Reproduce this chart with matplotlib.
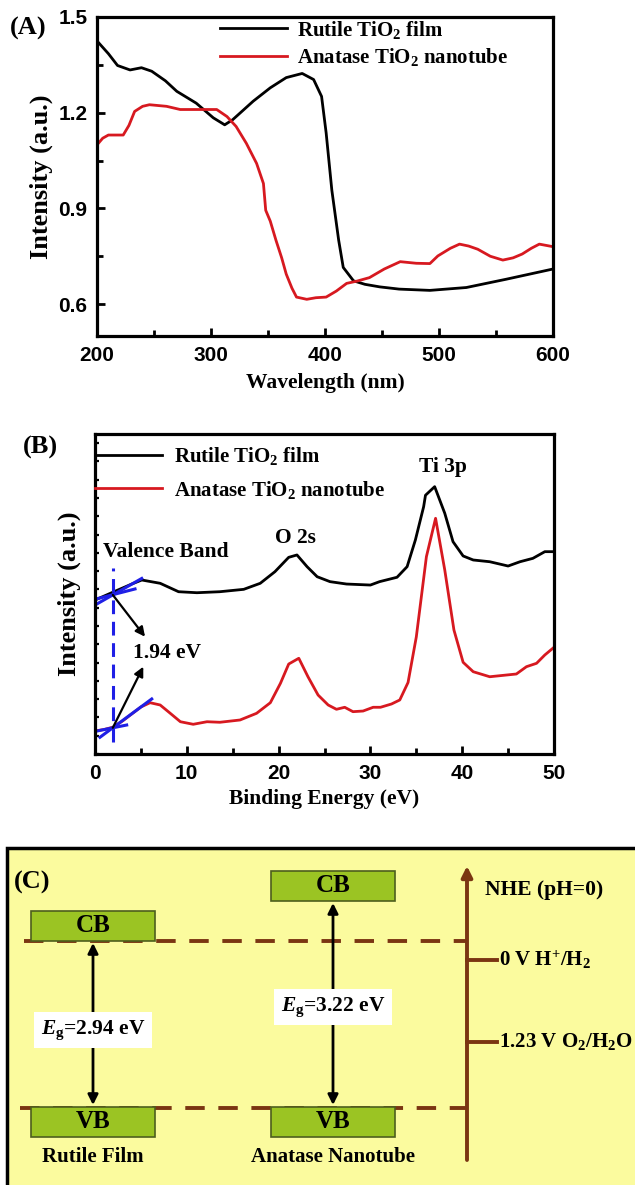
import matplotlib
matplotlib.use("Agg")
import matplotlib.pyplot as plt
from matplotlib.patches import Rectangle
from matplotlib.ticker import MultipleLocator

plt.rcParams["font.family"] = ["Liberation Serif", "DejaVu Serif"]
plt.rcParams["font.weight"] = "bold"
plt.rcParams["mathtext.fontset"] = "custom"
plt.rcParams["mathtext.rm"] = "Liberation Serif:bold"
plt.rcParams["mathtext.it"] = "Liberation Serif:italic:bold"
plt.rcParams["mathtext.bf"] = "Liberation Serif:bold"

# ---- (A) UV-vis spectra ----
wl_rutile = [200, 210, 218, 229, 239, 248, 260, 270, 287, 302, 312, 319, 337, 352, 366,
             380, 390, 397, 401, 406, 412, 416, 425, 435, 448, 465, 492, 524, 559, 600]
int_rutile = [1.425, 1.385, 1.348, 1.334, 1.341, 1.33, 1.30, 1.267, 1.23, 1.184, 1.162, 1.178,
              1.236, 1.278, 1.31, 1.323, 1.304, 1.251, 1.137, 0.957, 0.80, 0.715, 0.673, 0.662,
              0.654, 0.647, 0.643, 0.652, 0.678, 0.71]
wl_anatase = [200, 205, 210, 223, 228, 233, 240, 246, 261, 273, 287, 305, 314, 322, 331, 340,
              346, 348, 352, 357, 362, 366, 371, 375, 384, 392, 401, 410, 419, 428, 439, 452,
              466, 480, 492, 499, 510, 518, 526, 534, 545, 556, 565, 573, 581, 588, 600]
int_anatase = [1.099, 1.12, 1.13, 1.13, 1.16, 1.204, 1.22, 1.225, 1.22, 1.21, 1.21, 1.21, 1.188,
               1.157, 1.104, 1.041, 0.978, 0.894, 0.86, 0.80, 0.745, 0.694, 0.65, 0.622, 0.615,
               0.62, 0.622, 0.641, 0.665, 0.672, 0.683, 0.71, 0.733, 0.728, 0.727, 0.751, 0.775,
               0.788, 0.782, 0.772, 0.75, 0.738, 0.745, 0.757, 0.775, 0.788, 0.78]

# ---- (B) valence band XPS ----
be_rutile = [0, 2, 4, 5.1, 7.1, 9.1, 11.1, 13.6, 16.2, 18.0, 19.6, 21.1, 22.0, 23.1, 24.2, 25.6,
             27.4, 30.0, 31.0, 32.9, 34.0, 34.9, 35.8, 36.0, 37.0, 38.1, 39.0, 40.1, 41.2, 43.0,
             45.0, 46.3, 47.7, 49.0, 50.0]
xps_rutile = [16.84, 17.72, 18.59, 19.03, 18.67, 17.75, 17.64, 17.75, 18.01, 18.67, 19.94, 21.51,
              21.77, 20.49, 19.39, 18.85, 18.59, 18.48, 18.85, 19.33, 20.49, 23.41, 27.05, 28.3,
              29.24, 26.33, 23.22, 21.66, 21.22, 21.03, 20.56, 21.03, 21.4, 22.13, 22.13]
be_anatase = [0, 1, 2, 3, 4, 5, 6.0, 7.1, 8.2, 9.3, 10.7, 12.2, 13.6, 15.8, 17.6, 19.1, 20.2,
              21.1, 22.2, 23.2, 24.3, 25.4, 26.3, 27.2, 28.1, 29.2, 30.3, 31.1, 32.3, 33.2, 34.1,
              35.0, 36.1, 37.1, 38.1, 39.1, 40.1, 41.2, 43.0, 45.9, 47.0, 48.1, 49.0, 50.0]
xps_anatase = [2.52, 2.68, 2.95, 3.61, 4.38, 5.14, 5.61, 5.36, 4.45, 3.53, 3.25, 3.53, 3.47, 3.72,
               4.45, 5.61, 7.73, 9.84, 10.47, 8.45, 6.45, 5.36, 4.89, 5.11, 4.63, 4.70, 5.11,
               5.11, 5.47, 5.91, 7.82, 12.8, 21.58, 25.78, 20.13, 13.56, 10.03, 9.0, 8.45, 8.75,
               9.55, 9.92, 10.83, 11.67]
vb_edge = 1.94

# ---- (C) band diagram ----
materials = ["Rutile Film", "Anatase Nanotube"]
band_gaps = [2.94, 3.22]
nhe_levels = ["0 V H$^{+}$/H$_2$", "1.23 V O$_2$/H$_2$O"]

BLACK = "#000000"
RED = "#d71920"
BLUE = "#1f1fe6"
BROWN = "#7a3512"
GREEN = "#9bc423"
YELLOW = "#fbfb9e"
TICK_FONT = ["Liberation Sans Narrow", "Liberation Sans"]

fig = plt.figure(figsize=(6.35, 11.85), dpi=100)


def style_axes(ax):
    for side in ["left", "bottom", "top", "right"]:
        ax.spines[side].set_linewidth(2.3)
    ax.tick_params(which="both", direction="in", top=False, right=False, width=2)
    ax.tick_params(which="major", length=6, labelsize=15, pad=7)
    ax.tick_params(which="minor", length=4)
    for lab in ax.get_xticklabels() + ax.get_yticklabels():
        lab.set_family(TICK_FONT)
        lab.set_weight("bold")


# (A)
axA = fig.add_axes([97 / 635, 1 - 336 / 1185, 456 / 635, 319 / 1185])
axA.plot(wl_rutile, int_rutile, color=BLACK, lw=2, label="Rutile TiO$_2$ film")
axA.plot(wl_anatase, int_anatase, color=RED, lw=2, label="Anatase TiO$_2$ nanotube")
axA.set_xlim(200, 600)
axA.set_ylim(0.5, 1.5)
axA.set_xticks([200, 300, 400, 500, 600])
axA.set_yticks([0.6, 0.9, 1.2, 1.5])
axA.xaxis.set_minor_locator(MultipleLocator(50))
axA.yaxis.set_minor_locator(MultipleLocator(0.15))
style_axes(axA)
axA.set_xlabel("Wavelength (nm)", fontsize=15.5, fontweight="bold")
axA.set_ylabel("Intensity (a.u.)", fontsize=19, fontweight="bold")
axA.xaxis.set_label_coords(0.5, -0.115)
axA.yaxis.set_label_coords(-0.097, 0.5)
axA.legend(loc="upper left", bbox_to_anchor=(0.27, 0.995), frameon=False, fontsize=15,
           handlelength=3.2, handletextpad=0.5, labelspacing=0.25, borderpad=0,
           borderaxespad=0)
fig.text(28 / 635, 1 - 28 / 1185, "(A)", fontsize=19, fontweight="bold", ha="center", va="center")

# (B)
axB = fig.add_axes([95 / 635, 1 - 754 / 1185, 459 / 635, 320 / 1185])
axB.plot(be_rutile, xps_rutile, color=BLACK, lw=2, label="Rutile TiO$_2$ film")
axB.plot(be_anatase, xps_anatase, color=RED, lw=2, label="Anatase TiO$_2$ nanotube")
axB.set_xlim(0, 50)
axB.set_ylim(0, 35)
axB.set_xticks([0, 10, 20, 30, 40, 50])
axB.xaxis.set_minor_locator(MultipleLocator(5))
axB.yaxis.set_major_locator(MultipleLocator(2))
axB.set_yticklabels([])
style_axes(axB)
axB.tick_params(axis="y", which="major", length=3, width=1.6)
axB.set_xlabel("Binding Energy (eV)", fontsize=15.5, fontweight="bold")
axB.set_ylabel("Intensity (a.u.)", fontsize=19, fontweight="bold")
axB.xaxis.set_label_coords(0.5, -0.11)
axB.yaxis.set_label_coords(-0.03, 0.5)
axB.legend(loc="upper left", bbox_to_anchor=(0.0, 0.965), frameon=False, fontsize=15,
           handlelength=3.2, handletextpad=0.6, labelspacing=0.55, borderpad=0,
           borderaxespad=0)

# tangents and onset marker
axB.plot([vb_edge, vb_edge], [1.3, 20.3], color=BLUE, lw=2.2, ls=(0, (4.5, 2.5)))
axB.plot([0.19, 5.09], [16.4, 19.2], color=BLUE, lw=2.2)
axB.plot([0.1, 4.36], [16.95, 18.05], color=BLUE, lw=2.2)
axB.plot([0.0, 3.45], [2.47, 3.17], color=BLUE, lw=2.2)
axB.plot([0.54, 6.18], [1.83, 6.02], color=BLUE, lw=2.2)
arrow_kw = dict(arrowstyle="-|>", color=BLACK, lw=1.6, mutation_scale=14, shrinkA=0, shrinkB=0)
axB.annotate("", xy=(5.45, 12.83), xytext=(vb_edge, 17.4), arrowprops=arrow_kw)
axB.annotate("", xy=(5.26, 9.55), xytext=(vb_edge, 2.87), arrowprops=arrow_kw)
axB.text(4.1, 11.05, f"{vb_edge:.2f} eV", fontsize=15.5, fontweight="bold", va="center")
axB.text(0.9, 22.1, "Valence Band", fontsize=15.5, fontweight="bold", va="center")
axB.text(21.8, 23.6, "O 2s", fontsize=15.5, fontweight="bold", ha="center", va="center")
axB.text(37.9, 31.4, "Ti 3p", fontsize=15.5, fontweight="bold", ha="center", va="center")
fig.text(40 / 635, 1 - 447 / 1185, "(B)", fontsize=19, fontweight="bold", ha="center", va="center")

# (C) band diagram drawn in pixel space
axC = fig.add_axes([0, 0, 1, 1], zorder=-1)
axC.set_xlim(0, 635)
axC.set_ylim(1185, 0)
axC.axis("off")
axC.add_patch(Rectangle((7, 848), 640, 360, facecolor=YELLOW, edgecolor=BLACK, lw=2.5))
axC.text(32, 882, "(C)", fontsize=19, fontweight="bold", ha="center", va="center")

cb_tops = [911, 871]
vb_top = 1107
box_lefts = [31, 271]
box_w, box_h = 124, 30
centers = [93, 333]
eg_box_y = [1030, 1007]

axC.plot([24, 467], [941, 941], color=BROWN, lw=2.8, ls=(0, (5, 3.5)))
axC.plot([20, 467], [1108, 1108], color=BROWN, lw=2.8, ls=(0, (5, 3.5)))

for i, name in enumerate(materials):
    axC.add_patch(Rectangle((box_lefts[i], cb_tops[i]), box_w, box_h, facecolor=GREEN,
                            edgecolor="#4d5e1e", lw=1.2, zorder=3))
    axC.text(centers[i], cb_tops[i] + box_h / 2, "CB", fontsize=18, fontweight="bold",
             ha="center", va="center", zorder=4)
    axC.add_patch(Rectangle((box_lefts[i], vb_top), box_w, box_h, facecolor=GREEN,
                            edgecolor="#4d5e1e", lw=1.2, zorder=3))
    axC.text(centers[i], vb_top + box_h / 2, "VB", fontsize=18, fontweight="bold",
             ha="center", va="center", zorder=4)
    axC.text(centers[i], 1157, name, fontsize=15, fontweight="bold", ha="center", va="center")
    axC.annotate("", xy=(centers[i], cb_tops[i] + box_h + 2), xytext=(centers[i], vb_top - 2),
                 arrowprops=dict(arrowstyle="<|-|>", color=BLACK, lw=2, mutation_scale=15,
                                 shrinkA=0, shrinkB=0), zorder=2)
    axC.text(centers[i], eg_box_y[i], r"$\mathit{E}_{\mathrm{g}}$=" + f"{band_gaps[i]:.2f} eV",
             fontsize=15.5, fontweight="bold", ha="center", va="center", zorder=5,
             bbox=dict(facecolor="white", edgecolor="none", boxstyle="square,pad=0.3"))

axC.annotate("", xy=(467, 866), xytext=(467, 1160),
             arrowprops=dict(arrowstyle="-|>", color=BROWN, lw=2.8, mutation_scale=16,
                             shrinkA=0, shrinkB=0))
axC.text(485, 890, "NHE (pH=0)", fontsize=15.5, fontweight="bold", va="center")
for y, lab in zip([960, 1042], nhe_levels):
    axC.plot([467, 497], [y, y], color=BROWN, lw=2.8)
    axC.text(499, y, lab, fontsize=15, fontweight="bold", va="center")

fig.savefig("out.png", dpi=100)
